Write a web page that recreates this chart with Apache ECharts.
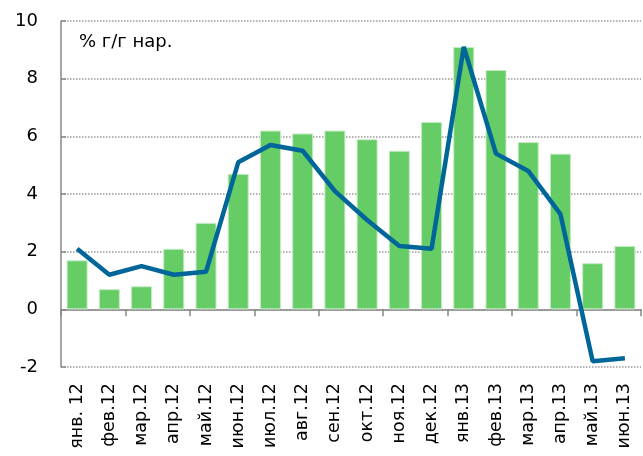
<!DOCTYPE html>
<html>
<head>
<meta charset="utf-8">
<script src="https://cdn.jsdelivr.net/npm/echarts@6/dist/echarts.min.js"></script>
<style>
  html, body { margin: 0; padding: 0; background: #fff; }
  #chart { width: 643px; height: 456px; }
</style>
</head>
<body>
<div id="chart"></div>
<script>
// месяцы
const months = ['янв. 12', 'фев.12', 'мар.12', 'апр.12', 'май.12', 'июн.12', 'июл.12', 'авг.12', 'сен.12',
  'окт.12', 'ноя.12', 'дек.12', 'янв.13', 'фев.13', 'мар.13', 'апр.13', 'май.13', 'июн.13']
// столбцы (зелёные)
const barValues = [1.7, 0.7, 0.8, 2.1, 3.0, 4.7, 6.2, 6.1, 6.2, 5.9, 5.5, 6.5, 9.1, 8.3, 5.8, 5.4, 1.6, 2.2]
// линия (синяя)
const lineValues = [2.1, 1.2, 1.5, 1.2, 1.3, 5.1, 5.7, 5.5, 4.1, 3.1, 2.2, 2.1, 9.1, 5.4, 4.8, 3.3, -1.8, -1.7]
const unitLabel = '% г/г нар.'

const chart = echarts.init(document.getElementById('chart'))
const font = 'DejaVu Sans'

chart.setOption({
  animation: false,
  grid: { left: 61, right: 2, top: 21, bottom: 89 },
  graphic: [{
    type: 'text',
    left: 79,
    top: 33,
    style: { text: unitLabel, font: '18px "DejaVu Sans"', fill: '#000' }
  }],
  xAxis: [
    {
      // ось на нуле: линия и засечки
      type: 'category',
      data: months,
      position: 'bottom',
      axisLine: { onZero: true, lineStyle: { color: '#888', width: 1.5 } },
      axisTick: { show: true, length: 7, lineStyle: { color: '#888', width: 1.5 } },
      axisLabel: { show: false }
    },
    {
      // подписи внизу
      type: 'category',
      data: months,
      position: 'bottom',
      axisLine: { show: false, onZero: false },
      axisTick: { show: false },
      axisLabel: {
        rotate: 90,
        margin: 16,
        interval: 0,
        fontFamily: font,
        fontSize: 17.5,
        color: '#000'
      }
    }
  ],
  yAxis: {
    type: 'value',
    min: -2,
    max: 10,
    interval: 2,
    axisLine: { show: true, onZero: false, lineStyle: { color: '#888', width: 1.5 } },
    axisTick: { show: true, inside: true, length: 5, lineStyle: { color: '#888', width: 1.5 } },
    axisLabel: { margin: 23, fontFamily: font, fontSize: 18, color: '#000' },
    splitLine: { show: true, lineStyle: { color: '#999', type: 'dotted', width: 1.5 } }
  },
  series: [
    {
      type: 'bar',
      data: barValues,
      barWidth: 21,
      itemStyle: { color: '#66cc66', borderColor: '#c4ecc4', borderWidth: 1 }
    },
    {
      type: 'line',
      data: lineValues,
      symbol: 'none',
      lineStyle: { color: '#006699', width: 4.5 }
    }
  ]
})
</script>
</body>
</html>
